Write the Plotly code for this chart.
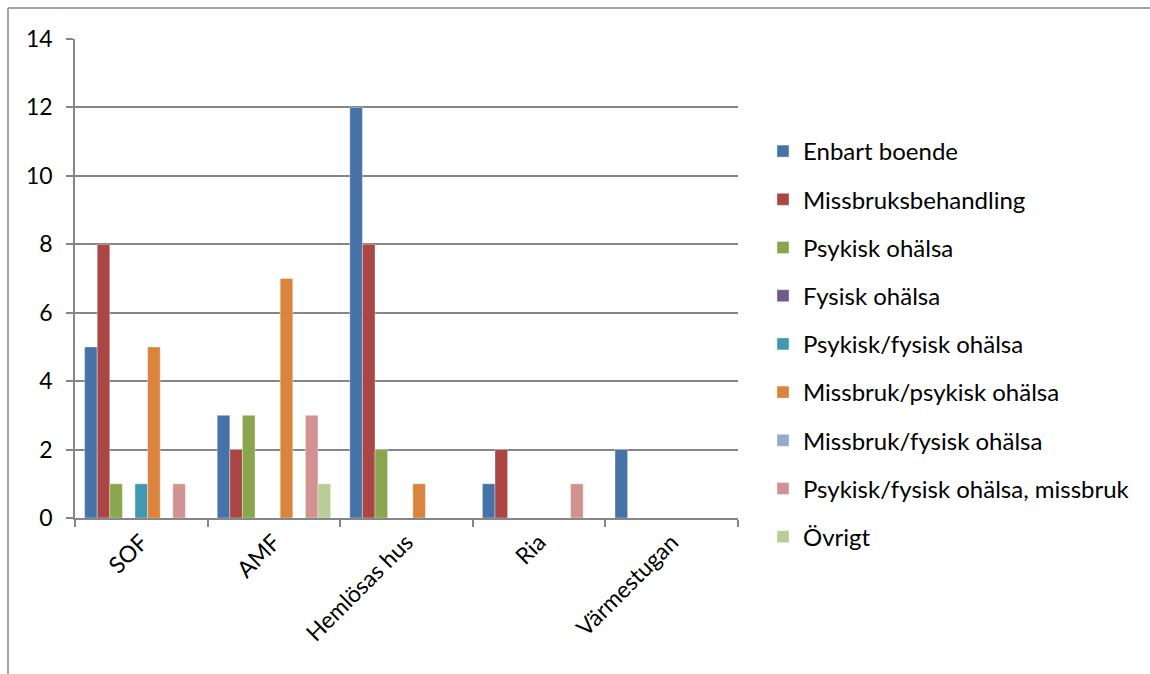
import plotly.graph_objects as go

categories = ["SOF", "AMF", "Hemlösas hus", "Ria", "Värmestugan"]
series_names = [
    "Enbart boende",
    "Missbruksbehandling",
    "Psykisk ohälsa",
    "Fysisk ohälsa",
    "Psykisk/fysisk ohälsa",
    "Missbruk/psykisk ohälsa",
    "Missbruk/fysisk ohälsa",
    "Psykisk/fysisk ohälsa, missbruk",
    "Övrigt",
]
enbart_boende = [5, 3, 12, 1, 2]
missbruksbehandling = [8, 2, 8, 2, 0]
psykisk_ohalsa = [1, 3, 2, 0, 0]
fysisk_ohalsa = [0, 0, 0, 0, 0]
psykisk_fysisk_ohalsa = [1, 0, 0, 0, 0]
missbruk_psykisk_ohalsa = [5, 7, 1, 0, 0]
missbruk_fysisk_ohalsa = [0, 0, 0, 0, 0]
psykisk_fysisk_missbruk = [1, 3, 0, 1, 0]
ovrigt = [0, 1, 0, 0, 0]
y_ticks = [0, 2, 4, 6, 8, 10, 12, 14]

series_values = [
    enbart_boende, missbruksbehandling, psykisk_ohalsa, fysisk_ohalsa,
    psykisk_fysisk_ohalsa, missbruk_psykisk_ohalsa, missbruk_fysisk_ohalsa,
    psykisk_fysisk_missbruk, ovrigt,
]
colors = ["#4572A7", "#AA4643", "#89A54E", "#71588F", "#4198AF",
          "#DB843D", "#93A9CF", "#D19392", "#B9CD96"]

FONT = "Lato"
FS = 23
LEG_FS = 24
fig = go.Figure()
for i, (name, vals, col) in enumerate(zip(series_names, series_values, colors)):
    fig.add_trace(go.Bar(
        x=categories, y=vals, name=name, legendgroup=f"g{i}",
        marker=dict(color=col, line=dict(width=0.6, color="rgba(255,255,255,0.6)")),
    ))

W, H = 1150, 674
L, R, T, B = 75, 1150 - 738, 39, 674 - 518
pw, ph = W - L - R, H - T - B

fig.update_layout(
    width=W, height=H,
    margin=dict(l=L, r=R, t=T, b=B, autoexpand=False),
    barmode="group", bargap=0.145, bargroupgap=0,
    plot_bgcolor="white", paper_bgcolor="white",
    font=dict(family=FONT, size=FS, color="#000000"),
    showlegend=True,
    legend=dict(
        x=(763 - L) / pw, xanchor="left",
        y=(518 - 129) / ph, yanchor="top",
        font=dict(family=FONT, size=LEG_FS, color="#000000"),
        tracegroupgap=14, itemwidth=30,
        bgcolor="rgba(0,0,0,0)",
    ),
    xaxis=dict(
        type="category", tickangle=-45, tickson="boundaries",
        ticks="outside", ticklen=7, tickcolor="#868686", tickwidth=1.5,
        showline=True, linecolor="#868686", linewidth=1.5,
        showgrid=False, tickfont=dict(family=FONT, size=FS),
    ),
    yaxis=dict(
        range=[0, 14], tickvals=y_ticks, ticks="outside", ticklen=7,
        tickcolor="#868686", tickwidth=1.5,
        showline=True, linecolor="#868686", linewidth=1.5,
        showgrid=True, gridcolor="#868686", gridwidth=1.5,
        zeroline=False, tickfont=dict(family=FONT, size=FS),
        ticklabelstandoff=9,
    ),
    shapes=[
        dict(type="line", xref="paper", yref="paper",
             x0=(8 - L) / pw, x1=(8 - L) / pw, y0=(518 - 8) / ph, y1=(518 - 700) / ph,
             line=dict(color="#868686", width=1.5)),
        dict(type="line", xref="paper", yref="paper",
             x0=(8 - L) / pw, x1=(1200 - L) / pw, y0=(518 - 8) / ph, y1=(518 - 8) / ph,
             line=dict(color="#868686", width=1.5)),
    ],
)

fig.write_html(
    "out.html",
    config={"displayModeBar": False},
    post_script="document.body.style.margin='0';document.body.style.overflow='hidden';",
)
